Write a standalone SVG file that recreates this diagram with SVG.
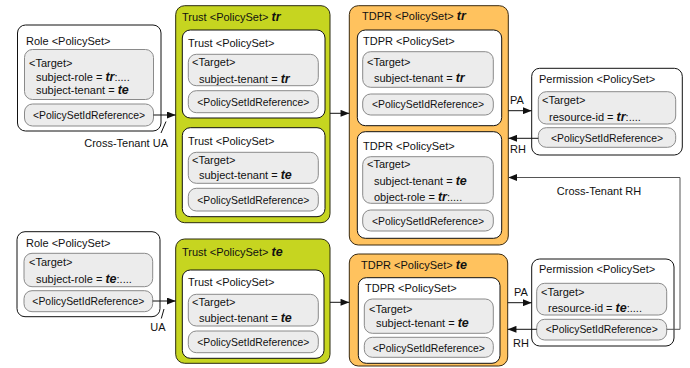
<svg xmlns="http://www.w3.org/2000/svg" width="690" height="368" viewBox="0 0 690 368">
  <defs>
    <marker id="arrow" viewBox="0 0 10 8" refX="10" refY="4" markerWidth="9" markerHeight="7" markerUnits="userSpaceOnUse" orient="auto">
      <path d="M0,0 L10,4 L0,8 Z" fill="#111"/>
    </marker>
    <style>
      text { font-family: "Liberation Sans", Arial, Helvetica, sans-serif; font-size: 11px; fill: #111; }
      .ref { font-size: 10.4px; text-anchor: middle; }
      .bi { font-weight: bold; font-style: italic; font-size: 12.5px; }
      .lbl { font-size: 11px; }
      .outer { fill: #fff; stroke: #111; stroke-width: 1; }
      .inner { fill: #fff; stroke: #111; stroke-width: 1; }
      .green { fill: #c6d520; stroke: #2a2a10; stroke-width: 1; }
      .orange { fill: #ffc25e; stroke: #3a2a10; stroke-width: 1; }
      .box { fill: #ececec; stroke: #8a8a8a; stroke-width: 1; }
      .conn { fill: none; stroke: #111; stroke-width: 1; }
      .conn2 { fill: none; stroke: #555; stroke-width: 1; }
    </style>
  </defs>

  <!-- Role (tr) -->
  <g id="role-tr">
    <rect class="outer" x="17.5" y="25" width="143.5" height="106" rx="8"/>
    <text x="26" y="44.5">Role &lt;PolicySet&gt;</text>
    <rect class="box" x="24.5" y="49.5" width="129" height="50" rx="8"/>
    <text x="29" y="67">&lt;Target&gt;</text>
    <text x="36" y="80.5">subject-role = <tspan class="bi">tr</tspan>:....</text>
    <text x="36" y="94">subject-tenant = <tspan class="bi">te</tspan></text>
    <rect class="box" x="24.5" y="104" width="129" height="22" rx="8"/>
    <text class="ref" x="89" y="118.8">&lt;PolicySetIdReference&gt;</text>
  </g>

  <!-- Role (te) -->
  <g id="role-te">
    <rect class="outer" x="17" y="231.7" width="143" height="85" rx="8"/>
    <text x="26" y="246.7">Role &lt;PolicySet&gt;</text>
    <rect class="box" x="24" y="253.3" width="128.7" height="33.4" rx="8"/>
    <text x="29" y="266.3">&lt;Target&gt;</text>
    <text x="36" y="283">subject-role = <tspan class="bi">te</tspan>:....</text>
    <rect class="box" x="24" y="290.7" width="128.7" height="21" rx="8"/>
    <text class="ref" x="88.4" y="305">&lt;PolicySetIdReference&gt;</text>
  </g>

  <!-- Trust (tr) -->
  <g id="trust-tr">
    <rect class="green" x="175.7" y="5.7" width="154.3" height="217" rx="9"/>
    <text x="182" y="21">Trust &lt;PolicySet&gt; <tspan class="bi">tr</tspan></text>
    <rect class="inner" x="182.3" y="30" width="142.7" height="88" rx="8"/>
    <text x="188" y="46.7">Trust &lt;PolicySet&gt;</text>
    <rect class="box" x="188.3" y="54.3" width="130" height="31.4" rx="8"/>
    <text x="192" y="65.7">&lt;Target&gt;</text>
    <text x="199" y="83">subject-tenant = <tspan class="bi">tr</tspan></text>
    <rect class="box" x="188.3" y="90.7" width="130" height="22" rx="8"/>
    <text class="ref" x="253.3" y="105.5">&lt;PolicySetIdReference&gt;</text>
    <rect class="inner" x="182.3" y="127.7" width="142.7" height="89" rx="8"/>
    <text x="188" y="144.7">Trust &lt;PolicySet&gt;</text>
    <rect class="box" x="188.3" y="152.3" width="130" height="31" rx="8"/>
    <text x="192" y="164">&lt;Target&gt;</text>
    <text x="199" y="179">subject-tenant = <tspan class="bi">te</tspan></text>
    <rect class="box" x="188.3" y="188.3" width="130" height="22.7" rx="8"/>
    <text class="ref" x="253.3" y="203.5">&lt;PolicySetIdReference&gt;</text>
  </g>

  <!-- Trust (te) -->
  <g id="trust-te">
    <rect class="green" x="175.7" y="239" width="154.3" height="124.3" rx="9"/>
    <text x="182" y="255.7">Trust &lt;PolicySet&gt; <tspan class="bi">te</tspan></text>
    <rect class="inner" x="182.3" y="270" width="141.7" height="88.3" rx="8"/>
    <text x="188" y="286.3">Trust &lt;PolicySet&gt;</text>
    <rect class="box" x="188.3" y="294.3" width="130" height="31.7" rx="8"/>
    <text x="192" y="305.7">&lt;Target&gt;</text>
    <text x="199" y="322.3">subject-tenant = <tspan class="bi">te</tspan></text>
    <rect class="box" x="188.3" y="331" width="130" height="21.7" rx="8"/>
    <text class="ref" x="253.3" y="345.7">&lt;PolicySetIdReference&gt;</text>
  </g>

  <!-- TDPR (tr) -->
  <g id="tdpr-tr">
    <rect class="orange" x="349.3" y="5.7" width="159" height="239.3" rx="9"/>
    <text x="362" y="20">TDPR &lt;PolicySet&gt; <tspan class="bi">tr</tspan></text>
    <rect class="inner" x="357.3" y="30" width="144.4" height="95.7" rx="8"/>
    <text x="363" y="44.7">TDPR &lt;PolicySet&gt;</text>
    <rect class="box" x="362.7" y="51.7" width="130.6" height="35.6" rx="8"/>
    <text x="367" y="66.3">&lt;Target&gt;</text>
    <text x="374" y="81.7">subject-tenant = <tspan class="bi">tr</tspan></text>
    <rect class="box" x="362.7" y="94" width="130.6" height="21" rx="8"/>
    <text class="ref" x="428" y="108.3">&lt;PolicySetIdReference&gt;</text>
    <rect class="inner" x="357.3" y="131.7" width="144.4" height="106.6" rx="8"/>
    <text x="363" y="150">TDPR &lt;PolicySet&gt;</text>
    <rect class="box" x="362.7" y="156.7" width="130.6" height="46.6" rx="8"/>
    <text x="367" y="168.3">&lt;Target&gt;</text>
    <text x="374" y="185">subject-tenant = <tspan class="bi">te</tspan></text>
    <text x="374" y="201.3">object-role = <tspan class="bi">tr</tspan>:....</text>
    <rect class="box" x="362.7" y="210" width="130.6" height="21" rx="8"/>
    <text class="ref" x="428" y="224.5">&lt;PolicySetIdReference&gt;</text>
  </g>

  <!-- TDPR (te) -->
  <g id="tdpr-te">
    <rect class="orange" x="349.3" y="254" width="158.4" height="112" rx="9"/>
    <text x="361" y="269">TDPR &lt;PolicySet&gt; <tspan class="bi">te</tspan></text>
    <rect class="inner" x="358.3" y="277.7" width="141.7" height="85.6" rx="8"/>
    <text x="365" y="292.3">TDPR &lt;PolicySet&gt;</text>
    <rect class="box" x="364.3" y="299" width="129" height="34.3" rx="8"/>
    <text x="369" y="313.3">&lt;Target&gt;</text>
    <text x="376" y="327.3">subject-tenant = <tspan class="bi">te</tspan></text>
    <rect class="box" x="364.3" y="337.3" width="129" height="20" rx="8"/>
    <text class="ref" x="428.8" y="351.5">&lt;PolicySetIdReference&gt;</text>
  </g>

  <!-- Permission (tr) -->
  <g id="permission-tr">
    <rect class="outer" x="531.7" y="68.3" width="150.6" height="86.7" rx="8"/>
    <text x="539" y="83.3">Permission &lt;PolicySet&gt;</text>
    <rect class="box" x="538.3" y="91.7" width="137.4" height="32.3" rx="8"/>
    <text x="542" y="104">&lt;Target&gt;</text>
    <text x="549" y="120.7">resource-id = <tspan class="bi">tr</tspan>:....</text>
    <rect class="box" x="538.3" y="127.7" width="137.4" height="19.6" rx="8"/>
    <text class="ref" x="607" y="141.8">&lt;PolicySetIdReference&gt;</text>
  </g>

  <!-- Permission (te) -->
  <g id="permission-te">
    <rect class="outer" x="531.7" y="259" width="142.3" height="87" rx="8"/>
    <text x="539" y="273.3">Permission &lt;PolicySet&gt;</text>
    <rect class="box" x="536.7" y="283.3" width="130" height="31.7" rx="8"/>
    <text x="541" y="295.7">&lt;Target&gt;</text>
    <text x="548" y="312.3">resource-id = <tspan class="bi">te</tspan>:....</text>
    <rect class="box" x="536.7" y="319.3" width="130" height="20.7" rx="8"/>
    <text class="ref" x="601.7" y="333.3">&lt;PolicySetIdReference&gt;</text>
  </g>

  <!-- Connectors -->
  <g id="connectors">
    <line class="conn" x1="153.5" y1="115" x2="175.7" y2="115" marker-end="url(#arrow)"/>
    <line class="conn" x1="166" y1="121.5" x2="161" y2="133"/>
    <text class="lbl" x="168" y="147" text-anchor="end">Cross-Tenant UA</text>

    <line class="conn" x1="152.7" y1="301" x2="175.7" y2="301" marker-end="url(#arrow)"/>
    <line class="conn" x1="164" y1="309" x2="161.3" y2="318.5"/>
    <text class="lbl" x="158" y="331" text-anchor="middle">UA</text>

    <line class="conn" x1="330" y1="113.3" x2="349.3" y2="113.3" marker-end="url(#arrow)"/>
    <line class="conn" x1="330" y1="302.3" x2="349.3" y2="302.3" marker-end="url(#arrow)"/>

    <line class="conn" x1="508.3" y1="110.7" x2="531.7" y2="110.7" marker-end="url(#arrow)"/>
    <text class="lbl" x="510" y="104">PA</text>
    <line class="conn" x1="538.3" y1="138.3" x2="508.3" y2="138.3" marker-end="url(#arrow)"/>
    <text class="lbl" x="510" y="153">RH</text>

    <line class="conn" x1="507.7" y1="302.7" x2="531.7" y2="302.7" marker-end="url(#arrow)"/>
    <text class="lbl" x="514" y="296.3">PA</text>
    <line class="conn" x1="536.7" y1="329.3" x2="507.7" y2="329.3" marker-end="url(#arrow)"/>
    <text class="lbl" x="513" y="346.7">RH</text>

    <path class="conn2" d="M666.7,329.3 H680 V177.5 H508.3" marker-end="url(#arrow)"/>
    <text class="lbl" x="599" y="194.5" text-anchor="middle">Cross-Tenant RH</text>
  </g>
</svg>
